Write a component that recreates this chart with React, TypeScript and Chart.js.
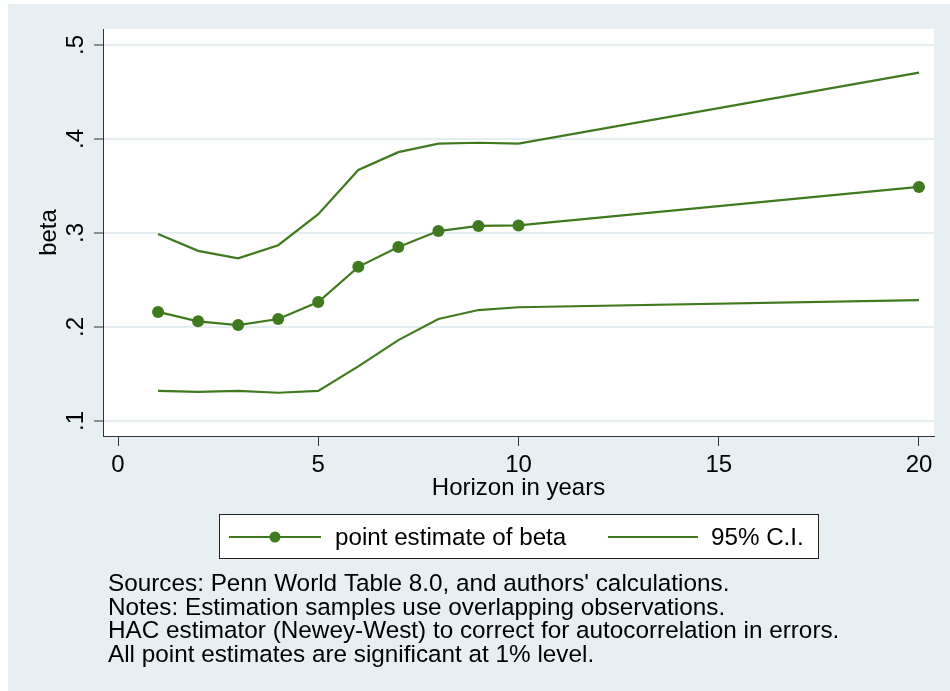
import React, { useEffect, useRef } from "react";
import { Chart, registerables } from "chart.js";

Chart.register(...registerables);

// ---- data ----
const horizons = [1, 2, 3, 4, 5, 6, 7, 8, 9, 10, 20];
const pointEstimate = [0.216, 0.206, 0.202, 0.2085, 0.2265, 0.264, 0.285, 0.302, 0.3075, 0.308, 0.349];
const upperCI = [0.299, 0.281, 0.273, 0.287, 0.32, 0.367, 0.386, 0.395, 0.396, 0.395, 0.4705];
const lowerCI = [0.132, 0.131, 0.132, 0.13, 0.132, 0.158, 0.186, 0.2085, 0.218, 0.221, 0.2285];
const xTickValues = [0, 5, 10, 15, 20];
const yTickValues = [0.1, 0.2, 0.3, 0.4, 0.5];
const yTickLabels = [".1", ".2", ".3", ".4", ".5"];
const seriesLabels = ["point estimate of beta", "95% C.I."];
const xTitle = "Horizon in years";
const yTitle = "beta";
const noteLines = [
  "Sources: Penn World Table 8.0, and authors' calculations.",
  "Notes: Estimation samples use overlapping observations.",
  "HAC estimator (Newey-West) to correct for autocorrelation in errors.",
  "All point estimates are significant at 1% level.",
];

// ---- style ----
const FONT = '"Liberation Sans", Arial, Helvetica, sans-serif';
const GREEN = "#3F7A1F";
const BG = "#E7EFF2";
const GRID = "#E4EDF0";
const AXIS = "#333333";

const bgPlugin = {
  id: "stataBg",
  beforeDraw(chart: any) {
    const { ctx, chartArea } = chart;
    ctx.save();
    ctx.fillStyle = "#ffffff";
    ctx.fillRect(0, 0, chart.width, chart.height);
    ctx.fillStyle = BG;
    ctx.fillRect(8, 4, chart.width - 8, chart.height - 4);
    ctx.fillStyle = "#ffffff";
    ctx.fillRect(chartArea.left, chartArea.top, chartArea.right - chartArea.left, chartArea.bottom - chartArea.top);
    ctx.restore();
  },
};

const extrasPlugin = {
  id: "stataExtras",
  afterDraw(chart: any) {
    const { ctx } = chart;
    const ys = chart.scales.y;
    ctx.save();
    // rotated y tick labels
    ctx.font = `24px ${FONT}`;
    ctx.fillStyle = "#000";
    ctx.textAlign = "center";
    ctx.textBaseline = "alphabetic";
    yTickValues.forEach((v, i) => {
      const py = ys.getPixelForValue(v);
      ctx.save();
      ctx.translate(ys.right - 20, py);
      ctx.rotate(-Math.PI / 2);
      ctx.fillText(yTickLabels[i], 0, 0);
      ctx.restore();
    });

    // legend
    const bx = 219.5, by = 514.5, bw = 599, bh = 44;
    ctx.fillStyle = "#fff";
    ctx.fillRect(bx, by, bw, bh);
    ctx.strokeStyle = "#222";
    ctx.lineWidth = 1;
    ctx.strokeRect(bx, by, bw, bh);
    const ly = 537;
    const ds = chart.data.datasets;
    const items = [
      { x0: 229, x1: 321, tx: 335, ds: ds[0] },
      { x0: 608, x1: 698, tx: 711, ds: ds[1] },
    ];
    ctx.font = `24.2px ${FONT}`;
    ctx.textAlign = "left";
    ctx.textBaseline = "middle";
    items.forEach((it) => {
      ctx.strokeStyle = it.ds.borderColor;
      ctx.lineWidth = 2.2;
      ctx.beginPath();
      ctx.moveTo(it.x0, ly);
      ctx.lineTo(it.x1, ly);
      ctx.stroke();
      if (it.ds.pointRadius > 0) {
        ctx.fillStyle = it.ds.pointBackgroundColor;
        ctx.beginPath();
        ctx.arc((it.x0 + it.x1) / 2, ly, 5.5, 0, Math.PI * 2);
        ctx.fill();
      }
      ctx.fillStyle = "#000";
      ctx.fillText(it.ds.label, it.tx, ly + 1);
    });

    // notes
    ctx.font = `24.3px ${FONT}`;
    ctx.textBaseline = "alphabetic";
    ctx.fillStyle = "#000";
    noteLines.forEach((line, i) => {
      ctx.fillText(line, 108, 591 + i * 23.67);
    });
    ctx.restore();
  },
};

export default function App() {
  const ref = useRef<HTMLCanvasElement | null>(null);

  useEffect(() => {
    if (!ref.current) return;
    const mk = (arr: number[]) => horizons.map((h, i) => ({ x: h, y: arr[i] }));
    const chart = new Chart(ref.current, {
      type: "line",
      data: {
        datasets: [
          {
            label: seriesLabels[0],
            data: mk(pointEstimate),
            borderColor: GREEN,
            backgroundColor: GREEN,
            pointBackgroundColor: GREEN,
            pointBorderColor: GREEN,
            pointRadius: 6,
            pointBorderWidth: 0,
            borderWidth: 2.2,
            tension: 0,
          },
          {
            label: seriesLabels[1],
            data: mk(upperCI),
            borderColor: GREEN,
            backgroundColor: GREEN,
            pointRadius: 0,
            borderWidth: 2.2,
            tension: 0,
          },
          {
            label: seriesLabels[1],
            data: mk(lowerCI),
            borderColor: GREEN,
            backgroundColor: GREEN,
            pointRadius: 0,
            borderWidth: 2.2,
            tension: 0,
          },
        ],
      },
      options: {
        animation: false,
        responsive: false,
        devicePixelRatio: 1,
        events: [],
        layout: { padding: { left: 0, top: 29, right: 16, bottom: 185 } },
        plugins: {
          legend: { display: false },
          tooltip: { enabled: false },
          title: { display: false },
        },
        scales: {
          x: {
            type: "linear",
            min: -0.375,
            max: 20.375,
            afterBuildTicks: (s: any) => {
              s.ticks = xTickValues.map((v) => ({ value: v }));
            },
            afterFit: (s: any) => {
              s.height = 70;
            },
            ticks: {
              font: { family: FONT, size: 24 },
              color: "#000",
              padding: 5,
              maxRotation: 0,
              minRotation: 0,
              callback: (v: any) => String(v),
            },
            grid: {
              drawOnChartArea: false,
              drawTicks: true,
              tickLength: 10,
              tickColor: AXIS,
              tickWidth: 1,
            },
            border: { display: true, color: AXIS, width: 1 },
            title: {
              display: true,
              text: xTitle,
              color: "#000",
              font: { family: FONT, size: 24 },
              padding: { top: 0, bottom: 3.6 },
            },
          },
          y: {
            type: "linear",
            min: 0.084,
            max: 0.517,
            afterBuildTicks: (s: any) => {
              s.ticks = yTickValues.map((v) => ({ value: v }));
            },
            afterFit: (s: any) => {
              s.width = 103;
            },
            ticks: { display: false },
            grid: {
              color: GRID,
              lineWidth: 2,
              drawTicks: true,
              tickLength: 9,
              tickColor: AXIS,
              tickWidth: 1,
            },
            border: { display: true, color: AXIS, width: 1 },
            title: {
              display: true,
              text: yTitle,
              color: "#000",
              font: { family: FONT, size: 24 },
              padding: { top: 34.6, bottom: 0 },
            },
          },
        },
      },
      plugins: [bgPlugin, extrasPlugin],
    });
    return () => chart.destroy();
  }, []);

  return (
    <div style={{ position: "absolute", left: 0, top: 0, width: 950, height: 691 }}>
      <canvas ref={ref} width={950} height={691} style={{ display: "block" }} />
    </div>
  );
}
